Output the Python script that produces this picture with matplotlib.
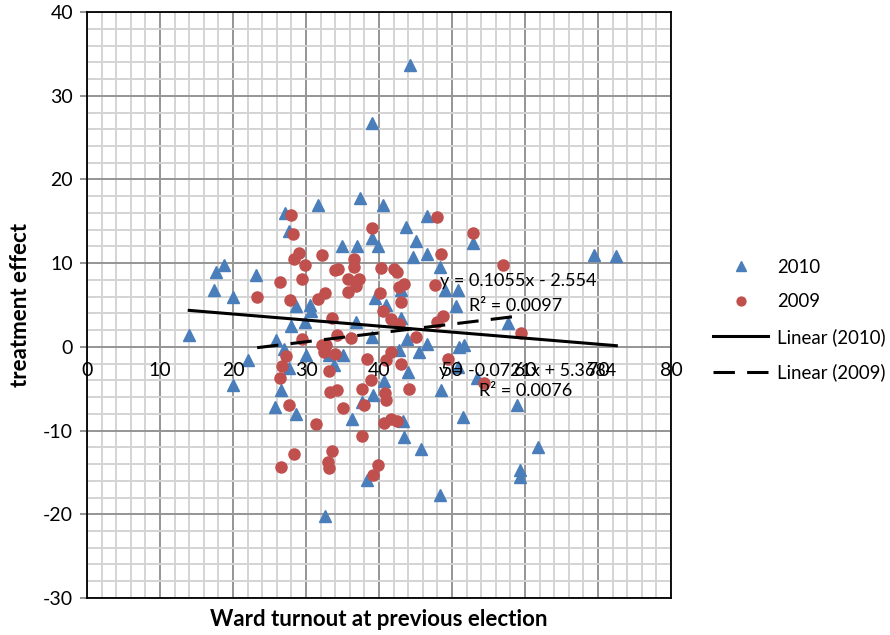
import numpy as np
import matplotlib
matplotlib.use("Agg")
import matplotlib.pyplot as plt
from matplotlib.ticker import MultipleLocator

plt.rcParams['font.family'] = ['Lato', 'DejaVu Sans']
plt.rcParams['axes.unicode_minus'] = False

# 2010 wards (triangles)
x2010 = [27.1, 31.7, 37.4, 27.6, 34.9, 37.0, 18.8, 17.6, 23.2, 17.4, 20.0, 28.6, 30.5,
         30.7, 29.8, 28.0, 36.8, 14.0, 25.9, 27.0, 30.0, 22.0, 33.2, 35.0,
         40.5, 46.6, 43.7, 39.0, 39.9, 45.0, 52.9, 44.6, 46.5, 48.4, 50.8, 50.6, 49.0,
         39.5, 40.9, 43.0, 57.7, 39.0, 43.8, 46.5, 42.8, 45.5, 50.9, 51.6, 43.0,
         20.0, 27.6, 26.6, 25.7, 28.6, 33.8, 36.3, 37.6, 32.6, 38.3,
         44.0, 40.7, 39.2, 48.5, 50.8, 53.4, 58.9, 51.5, 43.3, 43.4, 45.8, 61.8, 59.3,
         59.3, 48.4, 69.4, 72.5, 44.3, 39.1]
y2010 = [16.0, 17.0, 17.8, 13.8, 12.1, 12.0, 9.8, 9.0, 8.6, 6.8, 5.9, 4.9, 5.0,
         4.3, 3.0, 2.5, 3.0, 1.4, 0.8, -0.2, -1.0, -1.6, -1.0, -1.0,
         17.0, 15.6, 14.3, 13.0, 12.0, 12.6, 12.4, 10.7, 11.1, 9.5, 6.8, 4.9, 6.8,
         5.8, 5.0, 3.4, 2.8, 1.2, 1.0, 0.4, -0.4, -0.6, 0.0, 0.2, 6.8,
         -4.5, -2.5, -5.2, -7.2, -8.0, -2.2, -8.6, -6.6, -20.2, -15.9,
         -3.0, -4.1, -5.7, -5.1, -2.4, -3.7, -6.9, -8.4, -8.8, -10.8, -12.2, -12.0, -14.7,
         -15.5, -17.7, 11.0, 10.8, 33.7, 26.7]

# 2009 wards (circles)
x2009 = [27.9, 28.2, 29.0, 28.4, 29.8, 32.2, 36.6, 36.5, 34.0, 34.4, 35.8, 37.2, 36.8,
         35.7, 26.5, 29.4, 23.3, 27.8, 31.7, 32.6, 33.6, 34.2, 36.1, 29.5, 32.2, 32.7,
         32.4, 34.0, 27.3, 38.3, 39.0,
         47.9, 52.9, 48.5, 57.0, 40.2, 42.1, 42.5, 43.4, 42.8, 47.7, 40.1, 43.0, 40.5,
         41.6, 42.8, 48.7, 47.9, 59.5, 45.0, 41.6, 49.5, 40.9,
         26.7, 26.4, 27.7, 31.3, 33.2, 33.3, 34.2, 35.1, 37.7, 37.9, 37.7, 28.4, 26.6,
         33.6, 33.0, 33.2,
         43.0, 38.9, 40.8, 40.9, 44.1, 54.4, 40.7, 41.6, 42.4, 39.9, 39.2]
y2009 = [15.8, 13.5, 11.2, 10.5, 9.8, 11.0, 10.5, 9.6, 9.2, 9.3, 8.1, 8.1, 7.3,
         6.6, 7.8, 8.1, 6.0, 5.6, 5.7, 6.4, 3.5, 1.4, 1.1, 0.9, 0.2, 0.2,
         -0.6, -0.9, -1.1, -1.5, 14.2,
         15.5, 13.6, 11.1, 9.8, 9.4, 9.3, 9.0, 7.5, 7.1, 7.4, 6.4, 5.4, 4.3,
         3.3, 2.7, 3.7, 3.0, 1.6, 1.2, -0.6, -1.4, -1.6,
         -2.3, -3.7, -6.9, -9.2, -2.9, -5.4, -5.2, -7.3, -5.0, -6.9, -10.7, -12.8, -14.3,
         -12.4, -13.7, -14.5,
         -2.0, -4.0, -5.5, -6.4, -5.0, -4.3, -9.1, -8.6, -8.9, -14.1, -15.3]

# trendline coefficients as printed on the chart
fit2010 = (-0.0721, 5.3684)
fit2009 = (0.1055, -2.554)

fig = plt.figure(figsize=(8.9, 6.35), dpi=100)
ax = fig.add_axes([0.0978, 0.0583, 0.6562, 0.9227])

ax.set_xlim(0, 80)
ax.set_ylim(-30, 40)
ax.xaxis.set_major_locator(MultipleLocator(10))
ax.xaxis.set_minor_locator(MultipleLocator(2))
ax.yaxis.set_major_locator(MultipleLocator(10))
ax.yaxis.set_minor_locator(MultipleLocator(2))
ax.grid(which='minor', color='#d4d4d4', linewidth=1.4)
ax.grid(which='major', color='#959595', linewidth=1.4)
ax.set_axisbelow(True)

for s in ax.spines.values():
    s.set_color('black')
    s.set_linewidth(1.3)

ax.tick_params(axis='x', which='both', bottom=False, labelbottom=False)
ax.tick_params(axis='y', which='minor', left=False)
ax.tick_params(axis='y', which='major', length=5, width=1.2, labelsize=14, pad=5,
               color='#808080')

# x tick labels sit under the zero line
for v in range(0, 81, 10):
    ax.annotate(str(v), (v, 0), xytext=(0, -11), textcoords='offset points',
                ha='center', va='top', fontsize=14, zorder=5)

ax.plot(x2010, y2010, linestyle='none', marker='^', markersize=9,
        color='#4a7ebb', label='2010', zorder=3)
ax.plot(x2009, y2009, linestyle='none', marker='o', markersize=8,
        color='#c0504d', label='2009', zorder=3)

xs = np.array([min(x2010), max(x2010)])
ax.plot(xs, fit2010[0] * xs + fit2010[1], color='black', lw=2.2,
        label='Linear (2010)', zorder=4)
xs = np.array([min(x2009), max(x2009)])
ax.plot(xs, fit2009[0] * xs + fit2009[1], color='black', lw=2.2,
        dashes=(7, 4), label='Linear (2009)', zorder=4)

ax.text(48.3, 7.9, 'y = 0.1055x - 2.554', fontsize=13, va='center', zorder=6)
ax.text(52.3, 4.9, 'R² = 0.0097', fontsize=13, va='center', zorder=6)
ax.text(48.2, -2.9, 'y = -0.0721x + 5.3684', fontsize=13, va='center', zorder=6)
ax.text(53.7, -5.3, 'R² = 0.0076', fontsize=13, va='center', zorder=6)

ax.set_xlabel('Ward turnout at previous election', fontsize=16,
              fontweight='bold', labelpad=8)
ax.set_ylabel('treatment effect', fontsize=16, fontweight='bold', labelpad=9)

ax.legend(loc='center left', bbox_to_anchor=(0.793, 0.496),
          bbox_transform=fig.transFigure, borderaxespad=0, frameon=False,
          fontsize=13.4, handlelength=2.95, labelspacing=0.95, handletextpad=0.5,
          markerscale=0.8)

fig.savefig('out.png', dpi=100)
